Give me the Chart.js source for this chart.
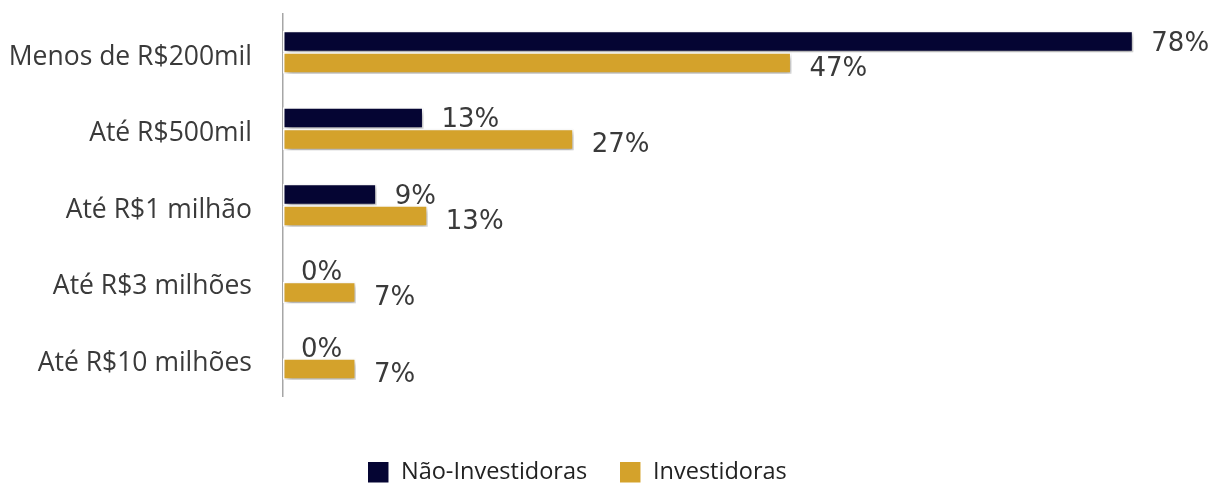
<!DOCTYPE html>
<html>
<head>
<meta charset="utf-8">
<script src="https://cdn.jsdelivr.net/npm/chart.js@4"></script>
<style>
html,body{margin:0;padding:0;background:#fff;}
#wrap{width:1220px;height:485px;position:relative;}
</style>
</head>
<body>
<div id="wrap"><canvas id="c" width="1220" height="485"></canvas></div>
<script>
const categories = ['Menos de R$200mil', 'Até R$500mil', 'Até R$1 milhão', 'Até R$3 milhões', 'Até R$10 milhões'];
const naoInvestidoras = [78.1, 12.9, 8.6, 0, 0];
const investidoras = [46.7, 26.7, 13.3, 6.7, 6.7];
const seriesNames = ['Não-Investidoras', 'Investidoras'];
const colors = ['#050533', '#d4a22b'];
const labelDy = [2.5, 6];

const shadowPlugin = {
  id: 'shadow',
  beforeDatasetsDraw(chart) {
    const ctx = chart.ctx;
    ctx.save();
    ctx.shadowColor = 'rgba(0,0,0,0.35)';
    ctx.shadowBlur = 5;
    ctx.shadowOffsetX = 2;
    ctx.shadowOffsetY = 3;
  },
  afterDatasetsDraw(chart) {
    chart.ctx.restore();
  }
};

const labelPlugin = {
  id: 'valueLabels',
  afterDatasetsDraw(chart) {
    const ctx = chart.ctx;
    ctx.save();
    ctx.font = '26px "DejaVu Sans"';
    ctx.fillStyle = '#3a3a3a';
    ctx.textAlign = 'left';
    ctx.textBaseline = 'middle';
    chart.data.datasets.forEach((ds, di) => {
      const meta = chart.getDatasetMeta(di);
      meta.data.forEach((bar, i) => {
        const v = ds.data[i];
        ctx.fillText(Math.round(v) + '%', bar.x + 18, bar.y + labelDy[di]);
      });
    });
    ctx.restore();
  }
};

new Chart(document.getElementById('c'), {
  type: 'bar',
  data: {
    labels: categories,
    datasets: [
      { label: seriesNames[0], data: naoInvestidoras, backgroundColor: colors[0], borderColor: '#ffffff', borderWidth: 1.5, borderSkipped: false },
      { label: seriesNames[1], data: investidoras, backgroundColor: colors[1], borderColor: '#ffffff', borderWidth: 1.5, borderSkipped: false }
    ]
  },
  options: {
    indexAxis: 'y',
    responsive: false,
    animation: false,
    devicePixelRatio: 1,
    layout: { padding: { top: 14, right: 66, left: 0, bottom: -9 } },
    datasets: { bar: { categoryPercentage: 0.56, barPercentage: 1.0 } },
    scales: {
      x: {
        min: 0, max: 80,
        display: true,
        grid: { display: false },
        border: { display: false },
        ticks: { display: false },
        afterFit(scale) { scale.height = 32; scale.paddingLeft = 0; scale.paddingRight = 0; }
      },
      y: {
        grid: { display: false, drawTicks: false },
        border: { display: true, color: '#a6a6a6', width: 1.5 },
        ticks: {
          padding: 31,
          labelOffset: 5,
          color: '#3a3a3a',
          font: { family: '"Open Sans"', size: 26.5 }
        },
        afterFit(scale) { scale.width = 283; scale.paddingTop = 0; scale.paddingBottom = 0; }
      }
    },
    plugins: {
      legend: {
        position: 'bottom',
        labels: {
          boxWidth: 22,
          boxHeight: 22,
          padding: 32,
          color: '#222222',
          font: { family: '"Open Sans"', size: 23.5 }
        }
      },
      tooltip: { enabled: false }
    }
  },
  plugins: [shadowPlugin, labelPlugin]
});
</script>
</body>
</html>
